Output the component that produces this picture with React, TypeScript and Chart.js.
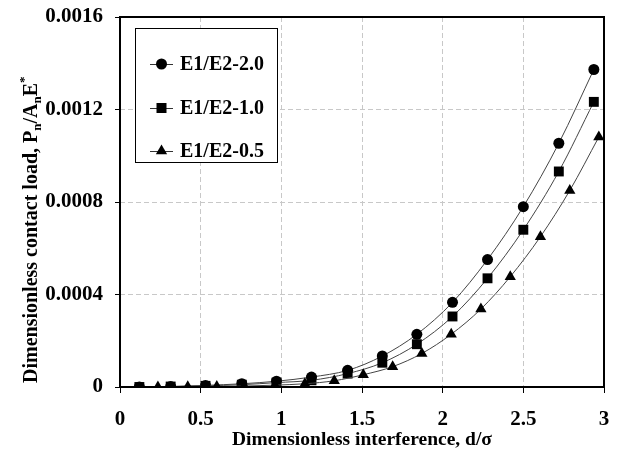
import React, { useEffect, useRef } from "react";
import { Chart, registerables } from "chart.js";

Chart.register(...registerables);

// ---- data ----
const seriesNames = ["E1/E2-2.0", "E1/E2-1.0", "E1/E2-0.5"];
const markerStyles = ["circle", "rect", "triangle"];

const x20 = [0.12, 0.314, 0.53, 0.755, 0.97, 1.187, 1.411, 1.626, 1.84, 2.061, 2.278, 2.5, 2.72, 2.937];
const y20 = [0, 0.000002, 0.000007, 0.000014, 0.000025, 0.000043, 0.000072, 0.000134, 0.000228, 0.000366, 0.000551, 0.00078, 0.001054, 0.001373];

const x10 = [0.12, 0.314, 0.53, 0.755, 0.97, 1.187, 1.411, 1.626, 1.84, 2.061, 2.278, 2.5, 2.72, 2.937];
const y10 = [0, 0.000002, 0.000005, 0.00001, 0.000019, 0.000029, 0.000058, 0.000105, 0.000185, 0.000305, 0.00047, 0.00068, 0.000932, 0.001233];

const x05 = [0.235, 0.42, 0.6, 0.77, 0.96, 1.146, 1.328, 1.508, 1.69, 1.871, 2.053, 2.237, 2.419, 2.606, 2.788, 2.968];
const y05 = [0, 0.000001, 0.000002, 0.000004, 0.000008, 0.000014, 0.000027, 0.000053, 0.000088, 0.000145, 0.000228, 0.000337, 0.000477, 0.00065, 0.00085, 0.001081];

const xTitle = "Dimensionless interference, d/σ";
const yTitleParts: [string, string][] = [
  ["Dimensionless contact load, P", "n"],
  ["n", "sub"],
  ["/A", "n"],
  ["n", "sub"],
  ["E", "n"],
  ["*", "sup"],
];

const FONT = "'Liberation Serif', 'Times New Roman', serif";

function toPts(xs: number[], ys: number[]) {
  return xs.map((x, i) => ({ x, y: ys[i] }));
}

function drawMarker(ctx: CanvasRenderingContext2D, style: string, x: number, y: number) {
  ctx.beginPath();
  if (style === "circle") {
    ctx.arc(x, y, 5.5, 0, Math.PI * 2);
  } else if (style === "rect") {
    ctx.rect(x - 5, y - 5, 10, 10);
  } else {
    const r = 6.5;
    ctx.moveTo(x, y - r);
    ctx.lineTo(x + r * 0.866, y + r * 0.5);
    ctx.lineTo(x - r * 0.866, y + r * 0.5);
    ctx.closePath();
  }
  ctx.fillStyle = "#000";
  ctx.fill();
}

const overlayPlugin = {
  id: "overlay",
  afterDraw(chart: any) {
    const ctx: CanvasRenderingContext2D = chart.ctx;
    const a = chart.chartArea;
    ctx.save();
    // frame
    ctx.strokeStyle = "#000";
    ctx.lineWidth = 2;
    ctx.setLineDash([]);
    ctx.strokeRect(a.left, a.top, a.right - a.left, a.bottom - a.top);

    // legend box
    const lx = a.left + 15, ly = a.top + 11, lw = 142, lh = 134;
    ctx.fillStyle = "#fff";
    ctx.fillRect(lx, ly, lw, lh);
    ctx.lineWidth = 1;
    ctx.strokeStyle = "#000";
    ctx.strokeRect(lx + 0.5, ly + 0.5, lw, lh);
    const rows = [36, 80, 123];
    ctx.font = "bold 20px " + FONT;
    ctx.textBaseline = "middle";
    ctx.textAlign = "left";
    seriesNames.forEach((name, i) => {
      const cy = ly + rows[i];
      ctx.strokeStyle = "#333";
      ctx.lineWidth = 1;
      ctx.beginPath();
      ctx.moveTo(lx + 15, cy + 0.5);
      ctx.lineTo(lx + 38, cy + 0.5);
      ctx.stroke();
      drawMarker(ctx, markerStyles[i], lx + 26.5, cy);
      ctx.fillStyle = "#000";
      ctx.fillText(name, lx + 45, cy + 1);
    });

    // y axis title (rotated, with sub/superscripts)
    const big = "bold 20px " + FONT;
    const small = "bold 13px " + FONT;
    ctx.translate(37, 383);
    ctx.rotate(-Math.PI / 2);
    ctx.textBaseline = "alphabetic";
    ctx.textAlign = "left";
    ctx.fillStyle = "#000";
    let px = 0;
    for (const [t, k] of yTitleParts) {
      ctx.font = k === "n" ? big : small;
      const dy = k === "sub" ? 4 : k === "sup" ? -9 : 0;
      ctx.fillText(t, px, dy);
      px += ctx.measureText(t).width;
    }
    ctx.restore();
  },
};

export default function App() {
  const ref = useRef<HTMLCanvasElement | null>(null);
  useEffect(() => {
    document.body.style.margin = "0";
    const canvas = ref.current!;
    const lineColor = "#444";
    const mk = (label: string, pts: any[], style: string, order: number, radius: number) => ({
      label,
      data: pts,
      showLine: true,
      borderColor: lineColor,
      borderWidth: 1,
      cubicInterpolationMode: "monotone",
      pointStyle: style,
      pointRadius: radius,
      pointBackgroundColor: "#000",
      pointBorderColor: "#000",
      pointBorderWidth: 0,
      order,
    });
    const chart = new Chart(canvas, {
      type: "scatter",
      data: {
        datasets: [
          mk(seriesNames[0], toPts(x20, y20), "circle", 3, 5.5),
          mk(seriesNames[1], toPts(x10, y10), "rect", 2, 7),
          mk(seriesNames[2], toPts(x05, y05), "triangle", 1, 6.5),
        ] as any,
      },
      options: {
        responsive: false,
        animation: false,
        layout: { padding: { top: 17, right: 16, left: 0, bottom: 0 } },
        plugins: { legend: { display: false }, tooltip: { enabled: false } },
        scales: {
          x: {
            type: "linear",
            min: 0,
            max: 3,
            ticks: {
              stepSize: 0.5,
              color: "#000",
              font: { family: FONT, size: 21, weight: "bold" },
              padding: 14,
              maxRotation: 0,
              callback: (v: any) => String(v),
            },
            grid: {
              color: "#c8c8c8",
              lineWidth: 1,
              tickColor: "#000",
              tickLength: 6,
              tickBorderDash: [],
            },
            border: { display: false, dash: [5, 3] },
            title: {
              display: true,
              text: xTitle,
              color: "#000",
              font: { family: FONT, size: 19.5, weight: "bold" },
              padding: { top: 2, bottom: 3 },
            },
            afterFit: (s: any) => {
              s.height = 68;
              s.paddingLeft = 0;
              s.paddingRight = 0;
            },
          },
          y: {
            type: "linear",
            min: 0,
            max: 0.0016,
            ticks: {
              stepSize: 0.0004,
              color: "#000",
              font: { family: FONT, size: 21, weight: "bold" },
              padding: 12,
              callback: (v: any) => (Math.abs(v) < 1e-12 ? "0" : Number(v).toFixed(4)),
            },
            grid: {
              color: "#c8c8c8",
              lineWidth: 1,
              tickColor: "#000",
              tickLength: 5,
              tickBorderDash: [],
            },
            border: { display: false, dash: [5, 3] },
            afterFit: (s: any) => {
              s.width = 120;
              s.paddingTop = 0;
              s.paddingBottom = 0;
            },
          },
        },
      } as any,
      plugins: [overlayPlugin],
    });
    return () => chart.destroy();
  }, []);
  return (
    <div style={{ width: 620, height: 455, background: "#fff" }}>
      <canvas ref={ref} width={620} height={455} />
    </div>
  );
}
